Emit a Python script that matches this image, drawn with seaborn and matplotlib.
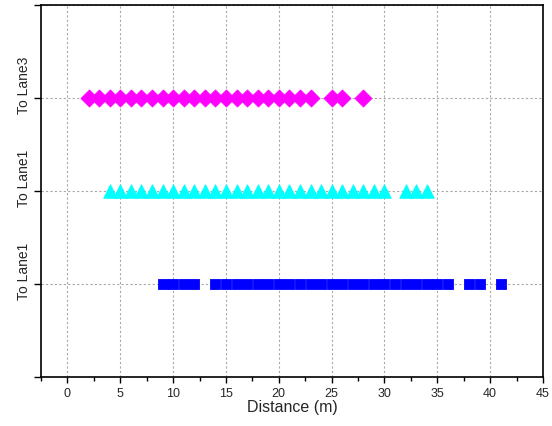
import numpy as np
import pandas as pd
import matplotlib
matplotlib.use("Agg")
import matplotlib.pyplot as plt
from matplotlib.transforms import ScaledTranslation
import seaborn as sns

# distances (m) of each detected point per lane-change class
lane3_dist = list(range(2, 24)) + [25, 26, 28]
lane1_upper_dist = list(range(4, 31)) + [32, 33, 34]
lane1_lower_dist = list(range(9, 13)) + list(range(14, 37)) + [38, 39, 41]

lane_levels = [3, 2, 1]
lane_labels = ["To Lane1", "To Lane1", "To Lane3"]
x_ticks = list(range(0, 50, 5))

df = pd.concat([
    pd.DataFrame({"distance": lane3_dist, "level": 3, "group": "lane3"}),
    pd.DataFrame({"distance": lane1_upper_dist, "level": 2, "group": "lane1a"}),
    pd.DataFrame({"distance": lane1_lower_dist, "level": 1, "group": "lane1b"}),
])

sns.set_theme(style="ticks")
plt.rcParams['font.family'] = ['Liberation Sans', 'DejaVu Sans']

fig = plt.figure(figsize=(5.52, 4.27), dpi=100)
ax = fig.add_axes([0.0743, 0.1148, 0.9094, 0.8712])

styles = {
    "lane3": ("D", "#FF00FF", 75),
    "lane1a": ("^", "#00FFFF", 95),
    "lane1b": ("s", "#0000FF", 60),
}
for grp, (mk, col, size) in styles.items():
    sub = df[df["group"] == grp]
    sns.scatterplot(data=sub, x="distance", y="level", marker=mk, color=col,
                    s=size, edgecolor=col, linewidth=0.6, ax=ax, legend=False,
                    zorder=3)

ax.set_xlim(-2.5, 45)
ax.set_ylim(0, 4)
ax.set_xticks(x_ticks)
ax.set_xticks(np.arange(-2.5, 45, 5), minor=True)
ax.set_yticks([0, 1, 2, 3, 4])
ax.set_yticklabels([""] + lane_labels + [""], rotation=90, va="center")
ax.grid(True, which="major", color="#a8a8a8", linestyle=(0, (2, 2)), linewidth=0.8)
ax.set_axisbelow(True)

for s in ax.spines.values():
    s.set_visible(True)
    s.set_linewidth(1.2)
    s.set_color("black")

ax.tick_params(axis="x", which="major", direction="out", length=4.5, width=1,
               labelsize=9, pad=3, color="black")
ax.tick_params(axis="x", which="minor", direction="out", length=3, width=1, color="black")
ax.tick_params(axis="y", which="major", direction="out", length=5, width=1,
               labelsize=10, pad=2, color="black")

off = ScaledTranslation(0, 10 / 72, fig.dpi_scale_trans)
for lab in ax.get_yticklabels():
    lab.set_transform(lab.get_transform() + off)

ax.set_xlabel("Distance (m)", fontsize=11.5, labelpad=0)
ax.set_ylabel("")

fig.savefig("out.png", dpi=100)
